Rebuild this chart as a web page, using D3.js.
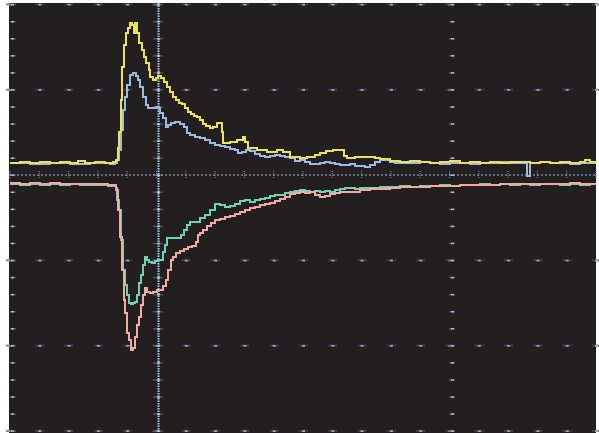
<!DOCTYPE html>
<html>
<head>
<meta charset="utf-8">
<script src="https://cdn.jsdelivr.net/npm/d3@7"></script>
<style>
  html, body { margin: 0; padding: 0; background: #ffffff; }
  svg { display: block; }
</style>
</head>
<body>
<svg id="chart" width="599" height="433"></svg>
<script>
// ---- data (time in samples, amplitude in ADC counts relative to the marker line) ----
const yellowTrace = [[0,12],[10,13],[20,12],[30,13],[40,12],[50,13],[60,12],[68,14],[75,12],[85,13],[95,12],[103,13],[106,15],[108,27],[109,43],[111,75],[112,108],[114,130],[116,142],[118,147],[120,152],[122,150],[124,142],[125,152],[127,142],[129,132],[132,125],[134,118],[136,112],[139,105],[140,98],[143,95],[146,97],[148,99],[151,97],[154,93],[157,88],[160,83],[163,78],[166,75],[169,72],[172,71],[175,67],[178,63],[181,61],[184,59],[187,58],[190,55],[193,51],[196,49],[200,47],[203,48],[207,52],[212,43],[213,32],[220,33],[227,35],[233,38],[235,33],[238,27],[247,25],[257,23],[267,25],[273,23],[280,18],[290,17],[297,18],[305,20],[310,22],[316,24],[323,25],[330,25],[334,19],[337,17],[345,18],[357,18],[365,17],[370,16],[380,14],[390,13],[400,14],[410,13],[420,12],[430,13],[440,14],[450,12],[460,13],[470,12],[480,13],[490,12],[500,13],[510,13],[520,12],[530,13],[540,12],[550,13],[560,12],[570,13],[575,15],[580,13],[586,12]];

const blueTrace = [[0,12],[20,11],[40,12],[60,11],[80,12],[100,11],[105,12],[107,15],[109,25],[111,45],[113,65],[115,78],[117,90],[120,100],[123,102],[126,99],[128,95],[130,88],[133,78],[136,70],[138,67],[142,67],[146,68],[148,67],[150,62],[153,57],[156,48],[158,50],[161,52],[165,53],[170,51],[174,48],[177,42],[180,40],[185,38],[190,37],[195,35],[200,32],[205,30],[210,29],[215,28],[220,26],[225,25],[228,22],[232,23],[236,25],[240,24],[245,21],[250,19],[255,18],[260,19],[265,20],[270,19],[275,18],[280,17],[285,14],[290,15],[295,13],[300,11],[305,11],[310,12],[315,13],[320,12],[325,11],[330,10],[335,10],[340,11],[345,9],[350,9],[355,8],[360,10],[365,13],[370,15],[375,15],[380,13],[385,12],[390,12],[400,12],[410,13],[420,12],[430,11],[440,12],[450,12],[460,11],[470,12],[480,12],[490,13],[500,12],[510,12],[516,12],[517,-1],[519,-1],[520,12],[530,13],[540,12],[550,12],[560,11],[570,12],[580,12],[586,12]];

const greenTrace = [[0,-9],[10,-10],[20,-9],[30,-10],[40,-9],[50,-10],[60,-9],[70,-10],[80,-10],[90,-10],[98,-11],[103,-11],[106,-13],[107,-25],[109,-35],[111,-65],[113,-95],[115,-110],[117,-120],[119,-128],[121,-129],[123,-128],[125,-127],[127,-120],[129,-108],[131,-100],[133,-90],[135,-82],[137,-85],[139,-87],[142,-88],[145,-86],[148,-85],[151,-85],[153,-77],[155,-70],[157,-63],[160,-63],[164,-63],[168,-63],[171,-60],[174,-55],[177,-50],[180,-47],[185,-47],[190,-43],[195,-40],[200,-35],[205,-29],[210,-30],[215,-32],[220,-31],[225,-29],[230,-26],[235,-25],[240,-27],[245,-25],[250,-24],[255,-23],[260,-21],[265,-20],[270,-20],[275,-18],[280,-17],[285,-16],[290,-15],[295,-16],[300,-17],[305,-16],[310,-17],[315,-16],[320,-17],[325,-15],[330,-14],[335,-13],[340,-13],[345,-14],[350,-13],[360,-13],[370,-12],[380,-12],[390,-11],[400,-12],[410,-11],[420,-11],[430,-10],[440,-11],[450,-10],[460,-10],[470,-9],[480,-10],[490,-9],[500,-10],[510,-9],[520,-10],[530,-9],[540,-9],[550,-10],[560,-9],[570,-10],[580,-9],[586,-9]];

const pinkTrace = [[0,-8],[10,-9],[20,-8],[30,-9],[40,-8],[50,-9],[60,-9],[70,-9],[80,-9],[90,-9],[98,-10],[103,-10],[106,-15],[108,-35],[110,-62],[112,-95],[114,-125],[115,-138],[117,-158],[119,-165],[121,-175],[123,-173],[125,-162],[127,-150],[129,-142],[131,-130],[133,-120],[135,-113],[137,-117],[140,-118],[143,-117],[147,-115],[150,-115],[153,-111],[156,-105],[158,-95],[161,-85],[163,-82],[166,-78],[170,-76],[174,-74],[178,-72],[182,-71],[186,-67],[188,-60],[190,-58],[193,-55],[197,-51],[201,-48],[205,-45],[210,-44],[215,-42],[220,-41],[225,-39],[230,-37],[235,-35],[240,-33],[245,-32],[250,-30],[255,-29],[260,-28],[265,-26],[270,-24],[275,-22],[280,-19],[285,-18],[290,-17],[295,-18],[300,-17],[305,-20],[310,-22],[315,-21],[320,-19],[325,-18],[330,-17],[340,-17],[350,-15],[360,-14],[370,-14],[380,-13],[390,-12],[400,-12],[410,-12],[420,-11],[430,-11],[440,-11],[450,-10],[460,-10],[470,-10],[480,-10],[490,-9],[500,-9],[510,-9],[520,-9],[530,-9],[540,-9],[550,-9],[560,-8],[570,-9],[580,-9],[586,-9]];

// grid positions (data units)
const xGridStep = 29.3;          // samples per grid column
const yMajorStep = 85.3;         // counts per major division
const yMinorStep = 17.06;        // counts per minor division
const cursorTimes = [148, 442];  // columns carrying minor tick marks
const markerLevel = 0;           // dashed reference line

const series = [
  { name: "CH2", data: blueTrace,   color: "#9fb9e2" },
  { name: "CH1", data: yellowTrace, color: "#e9e25a" },
  { name: "CH3", data: greenTrace,  color: "#6fd3b3" },
  { name: "CH4", data: pinkTrace,   color: "#f3aaa5" }
];

// ---- drawing ----
const svg = d3.select("#chart");
const x = d3.scaleLinear().domain([0, 586]).range([10, 596]);
const y = d3.scaleLinear().domain([-256, 170]).range([431, 5]);

svg.append("rect")
  .attr("x", 9).attr("y", 3).attr("width", 587).attr("height", 430)
  .attr("fill", "#231f20");

const gridX = d3.range(0, 587, xGridStep);
const gridYMajor = d3.range(-3, 3).map(k => k * yMajorStep).filter(v => y(v) >= 3 && y(v) <= 433);
const gridYMinor = d3.range(-15, 11).map(k => k * yMinorStep).filter(v => y(v) >= 3 && y(v) <= 433);

const grid = svg.append("g");
// faint halo dashes at intersections
gridYMajor.filter(v => v !== markerLevel).forEach(v => {
  gridX.forEach(t => {
    grid.append("rect").attr("x", x(t) - 4).attr("y", y(v) - 1).attr("width", 9).attr("height", 2)
      .attr("fill", "#4a4f58").attr("opacity", 0.7);
    grid.append("rect").attr("x", x(t) - 1).attr("y", y(v) - 0.5).attr("width", 3).attr("height", 1.5)
      .attr("fill", "#9cb8d4");
  });
});
// minor ticks on left edge and cursor columns
[0].concat(cursorTimes).forEach((t, i) => {
  gridYMinor.forEach(v => {
    const w = i === 1 ? 10 : 6;
    grid.append("rect").attr("x", x(t) - w / 2 + (i === 0 ? 3 : 0)).attr("y", y(v) - 0.5).attr("width", w).attr("height", 1.5)
      .attr("fill", "#5a6270").attr("opacity", 0.8);
    grid.append("rect").attr("x", x(t) - 1 + (i === 0 ? 2 : 0)).attr("y", y(v) - 0.5).attr("width", 3).attr("height", 1.5)
      .attr("fill", "#a5c0da");
  });
});
// dashed reference line
grid.append("line")
  .attr("x1", 9).attr("x2", 596).attr("y1", y(markerLevel)).attr("y2", y(markerLevel))
  .attr("stroke", "#9fbcd8").attr("stroke-width", 1).attr("stroke-dasharray", "2,2");
gridX.forEach(t => {
  grid.append("line").attr("x1", x(t)).attr("x2", x(t))
    .attr("y1", y(markerLevel) - 4).attr("y2", y(markerLevel) + 4)
    .attr("stroke", "#7f95ab").attr("stroke-width", 1).attr("stroke-dasharray", "1,1");
});
// vertical cursor line
grid.append("line")
  .attr("x1", x(cursorTimes[0]) + 0.5).attr("x2", x(cursorTimes[0]) + 0.5).attr("y1", 3).attr("y2", 433)
  .attr("stroke", "#b3cde6").attr("stroke-width", 2).attr("stroke-dasharray", "1.5,1");

// traces
const line = d3.line().x(d => x(d[0])).y(d => y(d[1])).curve(d3.curveStepAfter);
svg.append("g").selectAll("path").data(series).join("path")
  .attr("d", d => line(d.data))
  .attr("fill", "none")
  .attr("stroke", d => d.color)
  .attr("stroke-width", 2)
  .attr("stroke-linejoin", "miter");
</script>
</body>
</html>
